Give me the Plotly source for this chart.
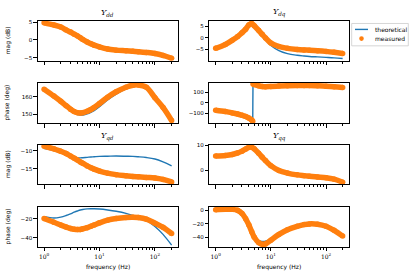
import plotly.graph_objects as go

# ---------------- data ----------------
F = [1, 1.5, 2, 2.5, 3, 3.5, 4, 4.5, 5, 6, 7, 8, 10, 14, 20, 30, 40, 50, 70, 100, 140, 200]

ydd_mag_meas = [4.8, 4.2, 3.6, 2.8, 2.2, 1.6, 1.1, 0.6, 0.1, -0.6, -1.1, -1.5, -2.0, -2.6, -2.9, -3.1,
                -3.25, -3.35, -3.55, -3.85, -4.4, -5.2]
ydd_mag_theo = [4.8, 4.2, 3.6, 2.8, 2.2, 1.6, 1.1, 0.6, 0.1, -0.6, -1.1, -1.5, -2.1, -2.8, -3.2, -3.45,
                -3.6, -3.75, -3.95, -4.2, -4.6, -5.3]

ydd_ph_meas = [164.4, 160.5, 157.5, 155.0, 153.0, 151.6, 151.0, 150.8, 151.0, 151.8, 152.8, 154.0, 156.2,
               159.8, 162.9, 165.5, 166.6, 166.8, 165.5, 159.5, 154.0, 146.5]
ydd_ph_theo = [164.4, 160.3, 157.0, 154.3, 152.2, 150.7, 149.9, 149.6, 149.7, 150.3, 151.2, 152.2, 154.4,
               158.2, 161.5, 164.6, 166.0, 166.6, 165.6, 159.6, 154.0, 146.5]

ydq_mag_meas = [-4.5, -2.8, -1.0, 0.6, 2.2, 3.8, 5.6, 6.2, 5.3, 3.3, 1.5, 0.0, -2.2, -3.7, -4.5, -5.0,
                -5.2, -5.3, -5.5, -5.8, -6.2, -6.7]
ydq_mag_theo = [-4.5, -2.8, -1.0, 0.6, 2.1, 3.6, 5.2, 5.6, 4.7, 2.5, 0.7, -0.8, -3.3, -5.5, -6.8, -7.5,
                -7.8, -8.0, -8.2, -8.4, -8.6, -8.9]

F_JUMP = [1, 1.5, 2, 2.5, 3, 3.5, 4, 4.5, 4.7, 4.72, 4.75, 5, 6, 7, 8, 10, 14, 20, 30, 40, 50, 70, 100, 140, 200]
ydq_ph_meas = [-70, -82, -95, -105, -117, -128, -143, -162, -172, None, 176, 170, 158, 152, 150, 152, 156,
               159, 161, 161, 160, 158, 155, 150, 142]
ydq_ph_theo = [-70, -82, -95, -105, -117, -128, -143, -162, -174, 0, 178, 170, 158, 152, 150, 152, 156,
               159, 161, 161, 160, 158, 155, 150, 142]

yqd_mag_meas = [-8.8, -9.5, -10.2, -10.8, -11.5, -12.1, -12.6, -13.1, -13.5, -14.2, -14.7, -15.1, -15.6,
                -16.2, -16.6, -16.9, -17.1, -17.2, -17.35, -17.5, -17.9, -18.6]
yqd_mag_theo = [-9.4, -10.0, -10.6, -11.1, -11.5, -11.8, -11.95, -12.0, -11.95, -11.85, -11.75, -11.7,
                -11.6, -11.55, -11.5, -11.55, -11.6, -11.7, -11.9, -12.3, -13.1, -14.2]

yqd_ph_meas = [-19.5, -23.5, -26.5, -28.7, -30.2, -31.0, -31.3, -31.2, -30.6, -29.3, -27.8, -26.5, -24.2,
               -21.3, -19.5, -18.4, -18.2, -18.5, -20.2, -24.5, -29.0, -35.5]
yqd_ph_theo = [-17.5, -19.0, -18.0, -16.3, -14.5, -12.8, -11.5, -10.5, -9.9, -9.3, -9.1, -9.1, -9.4,
               -10.4, -11.8, -14.0, -16.3, -18.3, -21.5, -28.0, -36.5, -48.0]

yqq_mag_meas = [5.7, 5.9, 6.3, 6.9, 7.6, 8.4, 9.1, 9.2, 8.5, 6.8, 5.2, 3.9, 1.9, 0.0, -1.0, -1.7, -2.0,
                -2.2, -2.5, -2.8, -3.4, -4.6]
yqq_mag_theo = [5.7, 5.9, 6.3, 6.9, 7.6, 8.4, 9.1, 9.2, 8.5, 6.8, 5.2, 4.0, 2.1, 0.3, -0.6, -1.2, -1.5,
                -1.7, -2.0, -2.4, -3.0, -4.2]

yqq_ph_meas = [0.5, 1.0, 1.0, -0.5, -5, -13, -22, -32, -40, -48, -50.5, -50, -44.5, -36, -29, -24, -21.5,
               -20.5, -21, -24, -30, -38.5]
yqq_ph_theo = [0.5, 1.0, 1.0, -0.5, -5, -13, -22, -31, -38, -45, -46.5, -46, -42, -34.5, -28, -23.5,
               -21.3, -20.5, -21, -24, -30, -38.5]

titles = ["Y<sub>dd</sub>", "Y<sub>dq</sub>", "Y<sub>qd</sub>", "Y<sub>qq</sub>"]
xtick_vals = [1, 10, 100]
xtick_text = ["10<sup>0</sup>", "10<sup>1</sup>", "10<sup>2</sup>"]
xminor_vals = [2, 3, 4, 5, 6, 7, 8, 9, 20, 30, 40, 50, 60, 70, 80, 90, 200]

# ---------------- layout geometry (pixels) ----------------
W, H = 415, 277
cols_px = [(37.7, 178.0), (209.3, 349.0)]
rows_px = [(18.0, 58.5), (80.7, 121.7), (143.3, 183.3), (206.0, 246.7)]

panels = [
    # row, col, x, theo, meas, yrange, yticks
    (0, 0, F, ydd_mag_theo, ydd_mag_meas, [-5.93, 5.37], [-5, 0, 5]),
    (0, 1, F, ydq_mag_theo, ydq_mag_meas, [-9.9, 7.4], [-5, 0, 5]),
    (1, 0, F, ydd_ph_theo, ydd_ph_meas, [144.9, 168.0], [150, 160]),
    (1, 1, F_JUMP, ydq_ph_theo, ydq_ph_meas, [-193, 186], [-100, 0, 100]),
    (2, 0, F, yqd_mag_theo, yqd_mag_meas, [-19.25, -8.4], [-15, -10]),
    (2, 1, F, yqq_mag_theo, yqq_mag_meas, [-5.4, 10.1], [0, 10]),
    (3, 0, F, yqd_ph_theo, yqd_ph_meas, [-50, -7], [-40, -20]),
    (3, 1, F, yqq_ph_theo, yqq_ph_meas, [-54.6, 4.8], [-40, -20, 0]),
]

BLUE = "#1f77b4"
ORANGE = "#ff7f0e"
TICKFONT = dict(family="DejaVu Sans", size=5.5, color="black")

fig = go.Figure()
layout = dict(
    width=W, height=H, margin=dict(l=0, r=0, t=0, b=0),
    paper_bgcolor="white", plot_bgcolor="white", showlegend=False,
)

for i, (r, c, xs, theo, meas, yr, yt) in enumerate(panels, start=1):
    xa, ya = f"x{i}", f"y{i}"
    is_jump = xs is F_JUMP
    fig.add_trace(go.Scatter(
        x=xs, y=theo, mode="lines", xaxis=xa, yaxis=ya,
        line=dict(color=BLUE, width=1.4, shape="linear" if is_jump else "spline"),
        name="theoretical"))
    fig.add_trace(go.Scatter(
        x=xs, y=meas, mode="lines+markers", xaxis=xa, yaxis=ya, connectgaps=False,
        line=dict(color=ORANGE, width=5.5, shape="spline"),
        marker=dict(color=ORANGE, size=5.5),
        name="measured"))
    x0, x1 = cols_px[c]
    y0, y1 = rows_px[r]
    bottom = r == 3
    layout[f"xaxis{i}"] = dict(
        type="log", range=[-0.115, 2.416], domain=[x0 / W, x1 / W], anchor=ya,
        showline=True, mirror=True, linecolor="black", linewidth=0.8, showgrid=False, zeroline=False,
        ticks="outside", ticklen=3.5, tickwidth=0.8, tickcolor="black",
        tickvals=xtick_vals, ticktext=xtick_text, showticklabels=bottom,
        tickfont=dict(family="DejaVu Serif", size=6, color="black"),
        minor=dict(tickvals=xminor_vals, ticks="outside", ticklen=2, tickwidth=0.6, tickcolor="black",
                   showgrid=False),
    )
    layout[f"yaxis{i}"] = dict(
        range=yr, domain=[1 - y1 / H, 1 - y0 / H], anchor=xa,
        showline=True, mirror=True, linecolor="black", linewidth=0.8, showgrid=False, zeroline=False,
        ticks="outside", ticklen=3.5, tickwidth=0.8, tickcolor="black",
        tickvals=yt, tickfont=TICKFONT,
    )

annotations = []
# subplot titles
for k, t in enumerate(titles):
    c = k % 2
    r = 0 if k < 2 else 2
    xc = (cols_px[c][0] + cols_px[c][1]) / 2
    yc = 10 if r == 0 else 135
    annotations.append(dict(text=f"<i>{t}</i>", x=xc / W, y=1 - yc / H, xref="paper", yref="paper",
                            showarrow=False, xanchor="center", yanchor="middle",
                            font=dict(family="DejaVu Serif", size=8, color="black")))
# y axis labels
for r, lab in enumerate(["mag (dB)", "phase (deg)", "mag (dB)", "phase (deg)"]):
    yc = (rows_px[r][0] + rows_px[r][1]) / 2
    annotations.append(dict(text=lab, x=7.5 / W, y=1 - yc / H, xref="paper", yref="paper",
                            showarrow=False, textangle=-90, xanchor="center", yanchor="middle",
                            font=dict(family="DejaVu Sans", size=6, color="black")))
# x axis labels
for c in range(2):
    xc = (cols_px[c][0] + cols_px[c][1]) / 2
    annotations.append(dict(text="frequency (Hz)", x=xc / W, y=1 - 266.7 / H, xref="paper", yref="paper",
                            showarrow=False, xanchor="center", yanchor="middle",
                            font=dict(family="DejaVu Sans", size=6, color="black")))
# legend (drawn manually)
legend_items = [("theoretical", 26.7), ("measured", 36.0)]
for txt, yy in legend_items:
    annotations.append(dict(text=txt, x=373 / W, y=1 - yy / H, xref="paper", yref="paper",
                            showarrow=False, xanchor="left", yanchor="middle",
                            font=dict(family="DejaVu Sans", size=6, color="black")))
shapes = [
    dict(type="rect", xref="paper", yref="paper", x0=351.7 / W, x1=408.3 / W, y0=1 - 43.3 / H, y1=1 - 20.7 / H,
         line=dict(color="#cccccc", width=0.8), fillcolor="white"),
    dict(type="line", xref="paper", yref="paper", x0=355 / W, x1=368 / W, y0=1 - 26.7 / H, y1=1 - 26.7 / H,
         line=dict(color=BLUE, width=1.4)),
    dict(type="circle", xref="paper", yref="paper", x0=359.2 / W, x1=363.8 / W, y0=1 - 38.3 / H,
         y1=1 - 33.7 / H, line=dict(color=ORANGE, width=0), fillcolor=ORANGE),
]
layout["annotations"] = annotations
layout["shapes"] = shapes
fig.update_layout(**layout)
fig.write_html("out.html", config={"displayModeBar": False},
               post_script="document.body.style.margin='0';")
